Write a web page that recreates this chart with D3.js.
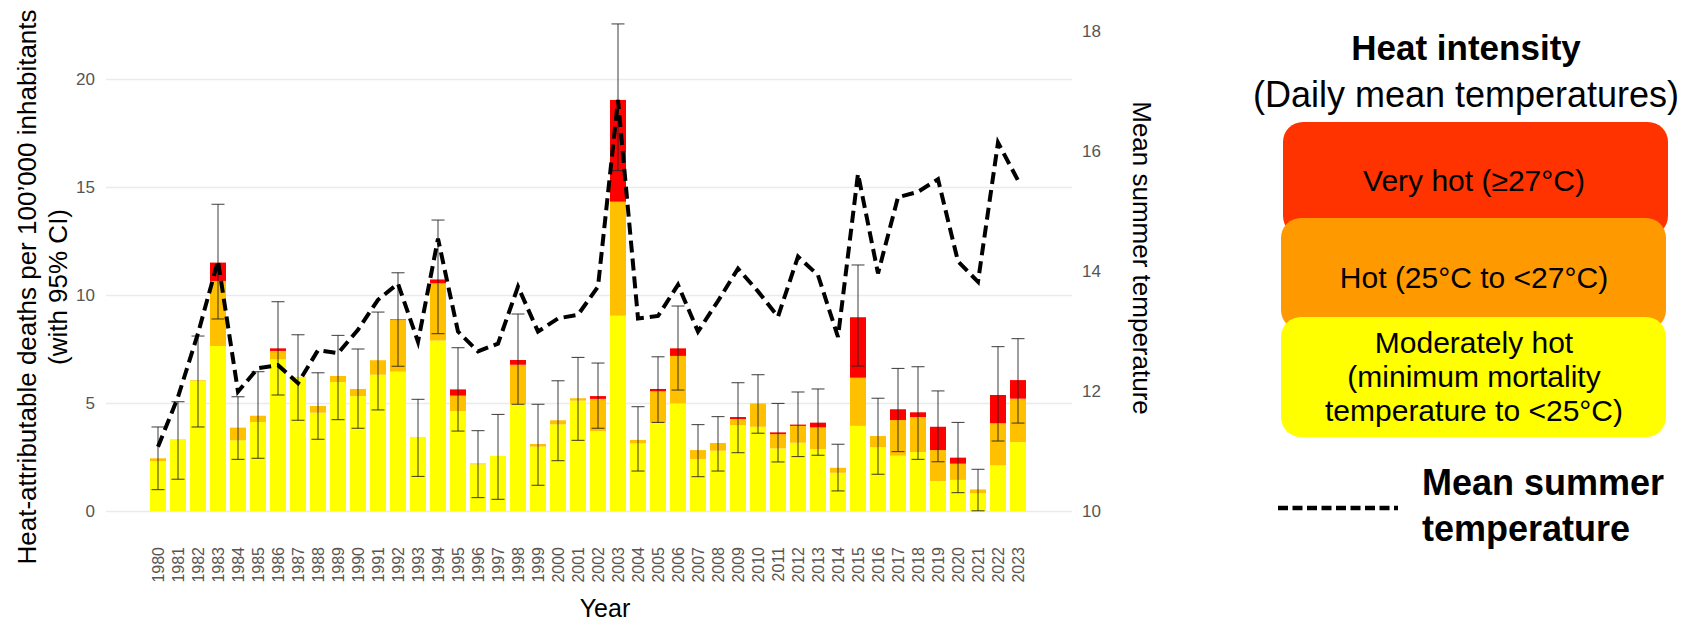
<!DOCTYPE html>
<html>
<head>
<meta charset="utf-8">
<script src="https://cdn.jsdelivr.net/npm/d3@7"></script>
<style>
  body { margin: 0; background: #fff; }
  svg { display: block; font-family: "Liberation Sans", Arial, sans-serif; }
</style>
</head>
<body>
<svg id="chart" width="1702" height="622"></svg>
<script>
// Heat-attributable deaths per 100'000 inhabitants, split by heat intensity
const years = [1980,1981,1982,1983,1984,1985,1986,1987,1988,1989,
               1990,1991,1992,1993,1994,1995,1996,1997,1998,1999,
               2000,2001,2002,2003,2004,2005,2006,2007,2008,2009,
               2010,2011,2012,2013,2014,2015,2016,2017,2018,2019,
               2020,2021,2022,2023];
const moderate = [2.31,3.29,6.03,7.64,3.27,4.12,7.02,6.19,4.55,5.97,
                  5.32,6.31,6.45,3.43,7.89,4.63,2.16,2.55,4.94,2.98,
                  4.01,5.11,3.70,9.04,3.13,4.09,4.98,2.41,2.79,3.98,
                  3.90,2.90,3.16,2.87,1.77,3.94,2.96,2.56,2.73,1.39,
                  1.44,0.82,2.11,3.19];
const hot      = [0.13,0.02,0.03,3.01,0.59,0.29,0.39,0.02,0.31,0.28,
                  0.33,0.67,2.39,0.00,2.65,0.71,0.04,0.00,1.83,0.12,
                  0.19,0.11,1.49,5.28,0.16,1.45,2.20,0.41,0.36,0.28,
                  1.08,0.66,0.78,1.00,0.23,2.23,0.51,1.65,1.62,1.43,
                  0.75,0.18,1.95,2.01];
const veryHot  = [0.00,0.00,0.00,0.85,0.00,0.00,0.12,0.00,0.00,0.00,
                  0.00,0.00,0.03,0.00,0.18,0.29,0.00,0.00,0.22,0.00,
                  0.00,0.00,0.13,4.71,0.00,0.11,0.35,0.00,0.00,0.09,
                  0.00,0.08,0.06,0.22,0.00,2.80,0.00,0.50,0.22,1.08,
                  0.28,0.00,1.31,0.86];
// 95% confidence interval of the total
const ciLow    = [0.99,1.47,3.89,8.89,2.39,2.44,5.37,4.20,3.32,4.23,
                  3.83,4.68,6.70,1.60,8.21,3.70,0.62,0.54,4.94,1.19,
                  2.33,3.27,3.83,15.76,1.85,4.10,5.60,1.59,1.85,2.70,
                  3.60,2.27,2.52,2.58,0.93,6.71,1.70,2.75,2.39,2.28,
                  0.85,0.01,3.24,4.07];
const ciHigh   = [3.89,5.06,8.10,14.20,5.29,6.45,9.69,8.16,6.40,8.13,
                  7.50,9.21,11.03,5.17,13.47,7.56,3.72,4.47,9.12,4.94,
                  6.03,7.11,6.85,22.55,4.83,7.14,9.49,4.00,4.37,5.94,
                  6.31,4.98,5.51,5.65,3.09,11.39,5.22,6.60,6.68,5.56,
                  4.10,1.93,7.61,7.98];
// Mean summer temperature (°C)
const meanTemp = [11.07,11.90,12.96,14.17,11.99,12.38,12.43,12.13,12.68,12.63,
                  13.02,13.52,13.79,12.82,14.54,12.99,12.66,12.79,13.74,12.99,
                  13.21,13.27,13.74,16.85,13.21,13.25,13.77,12.99,13.50,14.04,
                  13.66,13.24,14.24,13.93,12.90,15.62,13.96,15.23,15.32,15.53,
                  14.16,13.82,16.14,15.51];

const deathTicks = [0, 5, 10, 15, 20];
const tempTicks = [10, 12, 14, 16, 18];
const bandKeys = ["moderate", "hot", "veryHot"];
const bandColors = ["#FFFF00", "#FFC000", "#FF0000"];

const legendBoxes = [
  { label: ["Very hot (\u226527\u00B0C)"], color: "#FF3300" },
  { label: ["Hot (25\u00B0C to <27\u00B0C)"], color: "#FF9900" },
  { label: ["Moderately hot", "(minimum mortality", "temperature to <25\u00B0C)"], color: "#FFFF00" }
];

const rows = years.map((y, i) => ({
  year: y, moderate: moderate[i], hot: hot[i], veryHot: veryHot[i],
  lo: ciLow[i], hi: ciHigh[i], temp: meanTemp[i]
}));

const svg = d3.select("#chart");

// panel geometry
const panelLeft = 106, panelRight = 1072, baseY = 511;

const x = d3.scaleBand()
  .domain(years)
  .range([148, 1028])
  .paddingInner(0.2)
  .paddingOuter(0.1);

const yL = d3.scaleLinear().domain([0, 20]).range([baseY, 79]);
const yR = d3.scaleLinear().domain([10, 18]).range([baseY, 31]);

// left axis with horizontal grid lines
const gLeft = svg.append("g")
  .attr("transform", `translate(${panelLeft},0)`)
  .call(d3.axisLeft(yL).tickValues(deathTicks)
        .tickSize(-(panelRight - panelLeft)).tickPadding(11));
gLeft.select(".domain").remove();
gLeft.selectAll(".tick line").attr("stroke", "#EBEBEB").attr("stroke-width", 1.6);
gLeft.selectAll(".tick text").attr("fill", "#555").style("font-size", "17px")
  .style("font-family", "'Liberation Sans', Arial, sans-serif");

// right axis (temperature)
const gRight = svg.append("g")
  .attr("transform", `translate(${panelRight},0)`)
  .call(d3.axisRight(yR).tickValues(tempTicks).tickSize(0).tickPadding(10));
gRight.select(".domain").remove();
gRight.selectAll(".tick text").attr("fill", "#555").style("font-size", "17px")
  .style("font-family", "'Liberation Sans', Arial, sans-serif");

// x axis with vertical year labels
const gX = svg.append("g")
  .attr("transform", "translate(0,547)")
  .call(d3.axisBottom(x).tickSize(0));
gX.select(".domain").remove();
gX.selectAll(".tick text")
  .attr("x", 0).attr("y", 0).attr("dy", "0.36em")
  .attr("transform", "rotate(-90)")
  .style("text-anchor", "end")
  .attr("fill", "#555").style("font-size", "16px")
  .style("font-family", "'Liberation Sans', Arial, sans-serif");

// stacked bars
const stacked = d3.stack().keys(bandKeys)(rows);
svg.append("g").selectAll("g")
  .data(stacked)
  .join("g")
  .attr("fill", (d, i) => bandColors[i])
  .selectAll("rect")
  .data(d => d)
  .join("rect")
  .attr("x", d => x(d.data.year))
  .attr("width", x.bandwidth())
  .attr("y", d => yL(d[1]))
  .attr("height", d => Math.max(0, yL(d[0]) - yL(d[1])));

// confidence interval whiskers
const cap = 6.5;
const gErr = svg.append("g").attr("stroke", "#222").attr("stroke-opacity", 0.8)
  .attr("stroke-width", 1.1).attr("fill", "none");
rows.forEach(d => {
  const cx = x(d.year) + x.bandwidth() / 2;
  gErr.append("line").attr("x1", cx).attr("x2", cx)
    .attr("y1", yL(d.lo)).attr("y2", yL(d.hi));
  gErr.append("line").attr("x1", cx - cap).attr("x2", cx + cap)
    .attr("y1", yL(d.lo)).attr("y2", yL(d.lo));
  gErr.append("line").attr("x1", cx - cap).attr("x2", cx + cap)
    .attr("y1", yL(d.hi)).attr("y2", yL(d.hi));
});

// mean summer temperature line
const tempLine = d3.line()
  .x(d => x(d.year) + x.bandwidth() / 2)
  .y(d => yR(d.temp));
svg.append("path")
  .datum(rows)
  .attr("d", tempLine)
  .attr("fill", "none")
  .attr("stroke", "#000")
  .attr("stroke-width", 4)
  .attr("stroke-dasharray", "12,6");

// axis titles
svg.append("text")
  .attr("transform", "translate(36,287) rotate(-90)")
  .attr("text-anchor", "middle")
  .style("font-size", "26px")
  .text("Heat-attributable deaths per 100\u2019000 inhabitants");
svg.append("text")
  .attr("transform", "translate(67,287) rotate(-90)")
  .attr("text-anchor", "middle")
  .style("font-size", "26px")
  .text("(with 95% CI)");
svg.append("text")
  .attr("transform", "translate(1133,258) rotate(90)")
  .attr("text-anchor", "middle")
  .style("font-size", "26px")
  .text("Mean summer temperature");
svg.append("text")
  .attr("x", 605).attr("y", 617)
  .attr("text-anchor", "middle")
  .style("font-size", "25px")
  .text("Year");

// legend
const lg = svg.append("g");
lg.append("text").attr("x", 1466).attr("y", 60).attr("text-anchor", "middle")
  .style("font-size", "35px").style("font-weight", "bold").text("Heat intensity");
lg.append("text").attr("x", 1466).attr("y", 107).attr("text-anchor", "middle")
  .style("font-size", "36px").text("(Daily mean temperatures)");

const boxGeom = [
  { x: 1283, y: 122, h: 114, textY: [191] },
  { x: 1281, y: 218, h: 112, textY: [288] },
  { x: 1281, y: 317, h: 120, textY: [353, 387, 421] }
];
legendBoxes.forEach((b, i) => {
  const g = boxGeom[i];
  lg.append("rect").attr("x", g.x).attr("y", g.y).attr("width", 385).attr("height", g.h)
    .attr("rx", 20).attr("ry", 20).attr("fill", b.color);
});
legendBoxes.forEach((b, i) => {
  const g = boxGeom[i];
  b.label.forEach((t, j) => {
    lg.append("text").attr("x", 1474).attr("y", g.textY[j]).attr("text-anchor", "middle")
      .style("font-size", "30px").text(t);
  });
});

lg.append("line").attr("x1", 1278).attr("x2", 1398).attr("y1", 508).attr("y2", 508)
  .attr("stroke", "#000").attr("stroke-width", 4.5).attr("stroke-dasharray", "10,4.5");
lg.append("text").attr("x", 1422).attr("y", 495)
  .style("font-size", "36px").style("font-weight", "bold").text("Mean summer");
lg.append("text").attr("x", 1422).attr("y", 541)
  .style("font-size", "36px").style("font-weight", "bold").text("temperature");
</script>
</body>
</html>
